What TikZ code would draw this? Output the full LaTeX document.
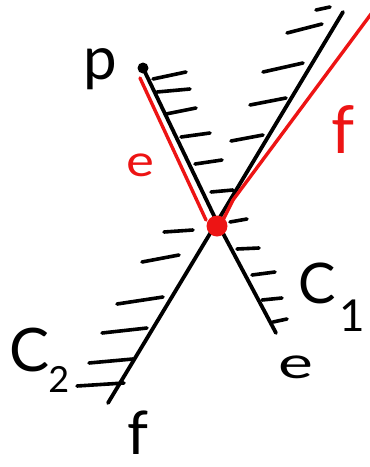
\documentclass[tikz,border=0pt]{standalone}
\usepackage{fontspec}
\setmainfont{Lato}
\definecolor{pen}{RGB}{237,20,20}
\begin{document}
\begin{tikzpicture}[x=1pt,y=-1pt,
  ink/.style={line width=3.8pt,line cap=round,line join=round},
  hatch/.style={line width=3.6pt,line cap=round},
  redink/.style={line width=3.4pt,line cap=round,draw=pen},
  lbl/.style={inner sep=0pt,anchor=base}]
\useasboundingbox (0,0) rectangle (370,467);
% main lines
\coordinate (p) at (143,68);
\coordinate (x) at (217,222);
\coordinate (eend) at (276,333);
\coordinate (ftop) at (343,12);
\coordinate (fend) at (108,403);
\draw[ink] (p) -- (x) -- (eend);
\draw[ink] (ftop) -- (x) -- (fend);
% red paths
\coordinate (re1) at (140,78);
\coordinate (re2) at (206,220);
\coordinate (rf1) at (222,222);
\coordinate (rf2) at (233,200);
\coordinate (rf3) at (374,10);
\draw[redink] (re1) -- (re2);
\draw[redink] (rf1) -- (rf2) -- (rf3);
% hatches upper e-line
\draw[hatch] (153,79)--(186,72) (157,92)--(190,89) (166,114)--(196,108)
  (181,137)--(210,133) (195,164)--(222,160) (211,192)--(233,190);
% hatches upper f-line
\draw[hatch] (316,10)--(330,7) (287,33)--(322,24) (263,72)--(303,63)
  (250,105)--(286,98) (231,141)--(263,135);
% hatches lower f-line (C2)
\draw[hatch] (164,232)--(193,230) (142,262)--(179,255) (117,304)--(163,297)
  (102,333)--(147,328) (89,363)--(133,359) (77,386)--(124,383);
% hatches lower e-line (C1)
\draw[hatch] (230,222)--(247,219) (237,249)--(259,248) (252,275)--(275,272)
  (262,300)--(282,298) (273,322)--(287,319);
% dots
\fill (p) circle (5.5);
\node[circle,fill=pen,minimum size=21pt,inner sep=0pt] (xd) at (217,226) {};
% labels
\node[lbl] (lp) at (100,79) {\fontsize{60}{60}\selectfont p};
\node[lbl,text=pen] (le) at (140,176) {\scalebox{1.2}[1]{\fontsize{44}{44}\selectfont e}};
\node[lbl,text=pen] (lf) at (343,153) {\fontsize{66}{66}\selectfont f};
\node[lbl,anchor=base west] (lc1) at (298,303) {\fontsize{56}{56}\selectfont C\hspace{4pt}\raisebox{-28pt}{\fontsize{44}{44}\selectfont 1}};
\node[lbl,anchor=base west] (lc2) at (9,371) {\fontsize{60}{60}\selectfont C\hspace{-1pt}\raisebox{-21pt}{\fontsize{36}{36}\selectfont 2}};
\node[lbl] (le2) at (296,378) {\scalebox{1.5}[1]{\fontsize{44}{44}\selectfont e}};
\node[lbl] (lf2) at (138,454) {\fontsize{60}{60}\selectfont f};
\end{tikzpicture}
\end{document}
